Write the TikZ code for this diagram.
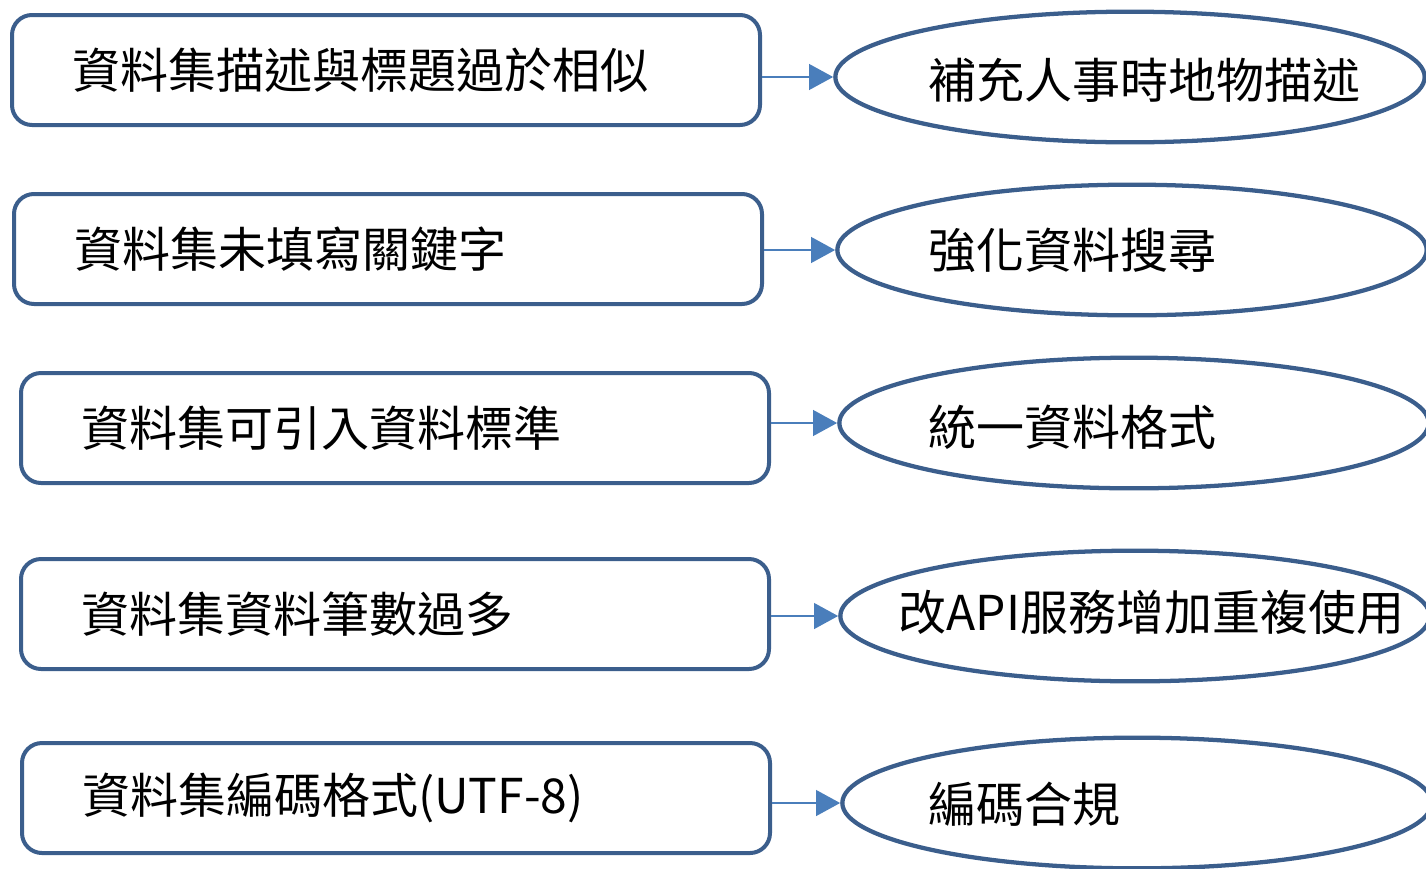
\documentclass[tikz,border=0pt]{standalone}
\usepackage{fontspec}
\setmainfont{Noto Sans CJK TC}
\usetikzlibrary{shapes.geometric,arrows.meta}
\definecolor{boxline}{HTML}{3B5E8C}
\definecolor{arrline}{HTML}{4A7EBB}
\tikzset{every picture/.style={line width=0.75pt}}
\tikzset{
  issuebox/.style={draw=boxline,line width=3pt,rounded corners=15pt,minimum width=561pt,minimum height=82.5pt,
    text width=471pt,inner xsep=45pt,align=left,font=\fontsize{36}{43}\selectfont},
  fixoval/.style={draw=boxline,line width=3.2pt,ellipse,minimum width=442pt,minimum height=98pt,inner sep=0pt},
  fixtext/.style={anchor=west,inner sep=0pt,font=\fontsize{36}{43}\selectfont},
  fixarrow/.style={draw=arrline,line width=2.2pt,-{Triangle[length=18pt,width=19pt]}}
}
\begin{document}
\begin{tikzpicture}[x=0.75pt,y=0.75pt,yscale=-1,xscale=1]
\useasboundingbox (0,0) rectangle (1426,868);
\clip (0,0) rectangle (1426,868);

%left boxes
\node[issuebox] (r1) at (386,70) {資料集描述與標題過於相似};
\node[issuebox] (r2) at (388,249) {資料集未填寫關鍵字};
\node[issuebox] (r3) at (395,428) {資料集可引入資料標準};
\node[issuebox] (r4) at (395,614) {資料集資料筆數過多};
\node[issuebox] (r5) at (396,798) {資料集編碼格式(UTF-8)};

%right ellipses
\node[fixoval] (e1) at (1130,77) {};
\node[fixoval] (e2) at (1132,250) {};
\node[fixoval] (e3) at (1134,423) {};
\node[fixoval] (e4) at (1135,616) {};
\node[fixoval] (e5) at (1137,803) {};

%texts in ellipses
\node[fixtext] (t1) at (928,80) {補充人事時地物描述};
\node[fixtext] (t2) at (928,250) {強化資料搜尋};
\node[fixtext] (t3) at (928,427) {統一資料格式};
\node[fixtext] (t4) at (898,612) {改API服務增加重複使用};
\node[fixtext] (t5) at (928,804) {編碼合規};

%arrows
\foreach \i in {1,...,5}
  \draw[fixarrow] (r\i.east |- e\i.west) -- (e\i.west);

\end{tikzpicture}
\end{document}
